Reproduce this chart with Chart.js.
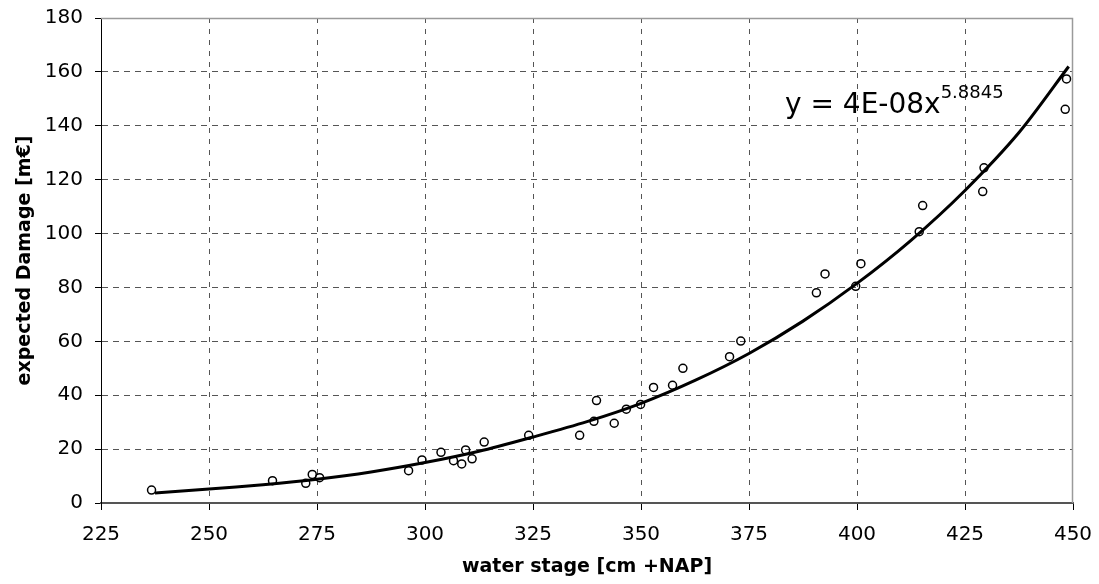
<!DOCTYPE html>
<html>
<head>
<meta charset="utf-8">
<script src="https://cdn.jsdelivr.net/npm/chart.js@4.4.1/dist/chart.umd.min.js"></script>
<style>
  html, body { margin: 0; padding: 0; background: #ffffff; }
  #wrap { width: 1099px; height: 584px; }
</style>
</head>
<body>
<div id="wrap"><canvas id="c" width="1099" height="584"></canvas></div>
<script>
// Observed points: water stage [cm +NAP] and expected damage [m€]
const stageObs  = [236.7, 264.7, 272.4, 273.9, 275.6, 296.2, 299.3, 303.7, 306.6, 308.5, 309.4, 310.9, 313.7, 324.0, 335.8, 339.1, 339.7, 343.8, 346.6, 349.9, 352.9, 357.3, 359.7, 370.5, 373.1, 390.6, 392.6, 399.7, 400.9, 414.4, 415.2, 429.4, 429.1, 448.5, 448.2];
const damageObs = [4.8, 8.3, 7.3, 10.6, 9.4, 12.0, 16.0, 18.8, 15.7, 14.5, 19.7, 16.4, 22.6, 25.1, 25.1, 30.3, 38.0, 29.6, 34.8, 36.6, 42.9, 43.7, 50.0, 54.3, 60.1, 78.0, 85.0, 80.4, 88.8, 100.7, 110.4, 124.4, 115.6, 157.4, 146.1];

// Trend line
const trendStage  = [237.5, 250, 262.5, 275, 287.5, 300, 312.5, 325, 337.5, 350, 362.5, 375, 387.5, 400, 412.5, 425, 437.5, 449];
const trendDamage = [3.7, 5.2, 6.8, 8.8, 11.5, 15.0, 19.2, 24.5, 30.2, 37.0, 45.5, 55.5, 67.5, 81.5, 97.5, 116, 137.5, 162];

const equationMain = 'y = 4E-08x';
const equationExp  = '5.8845';
const xTitle = 'water stage [cm +NAP]';
const yTitle = 'expected Damage [m€]';

const obsPoints = stageObs.map((x, i) => ({ x: x, y: damageObs[i] }));
const trendPoints = trendStage.map((x, i) => ({ x: x, y: trendDamage[i] }));

const FONT = 'DejaVu Sans';

const framePlugin = {
  id: 'frame',
  beforeDatasetsDraw(chart) {
    const { ctx, chartArea: a } = chart;
    ctx.save();
    ctx.strokeStyle = '#9a9a9a';
    ctx.lineWidth = 1.5;
    ctx.beginPath();
    ctx.moveTo(a.left, a.top + 0.5);
    ctx.lineTo(a.right - 0.5, a.top + 0.5);
    ctx.lineTo(a.right - 0.5, a.bottom);
    ctx.stroke();
    ctx.restore();
  },
  afterDraw(chart) {
    const { ctx } = chart;
    ctx.save();
    ctx.fillStyle = '#000';
    ctx.textBaseline = 'alphabetic';
    ctx.textAlign = 'left';
    ctx.font = '28px "' + FONT + '"';
    const x0 = 785, base = 113;
    ctx.fillText(equationMain, x0, base);
    const w = ctx.measureText(equationMain).width;
    ctx.font = '18px "' + FONT + '"';
    ctx.fillText(equationExp, x0 + w, base - 15);
    ctx.restore();
  }
};

new Chart(document.getElementById('c'), {
  type: 'scatter',
  data: {
    datasets: [
      {
        label: 'trend',
        data: trendPoints,
        showLine: true,
        borderColor: '#000',
        borderWidth: 3,
        pointRadius: 0,
        tension: 0.3,
        fill: false,
        order: 2
      },
      {
        label: 'observed',
        data: obsPoints,
        showLine: false,
        pointStyle: 'circle',
        pointRadius: 4,
        pointBorderWidth: 1.5,
        pointBorderColor: '#000',
        pointBackgroundColor: 'rgba(255,255,255,0)',
        order: 1
      }
    ]
  },
  options: {
    responsive: false,
    animation: false,
    devicePixelRatio: 1,
    layout: { padding: { top: 18, right: 26, left: 0, bottom: 0 } },
    plugins: { legend: { display: false }, tooltip: { enabled: false } },
    scales: {
      x: {
        type: 'linear',
        min: 225, max: 450,
        afterFit(scale) { scale.height = 81; scale.paddingLeft = 0; scale.paddingRight = 0; },
        ticks: { stepSize: 25, color: '#000', padding: 13, font: { family: FONT, size: 20 } },
        grid: {
          color: (c) => (c.tick && (c.tick.value === 450 || c.tick.value === 225)) ? 'rgba(0,0,0,0)' : '#555',
          tickColor: '#000',
          tickLength: 7,
          lineWidth: 1
        },
        border: { display: true, color: '#555', width: 2, dash: [5, 6] },
        title: { display: true, text: xTitle, color: '#000', padding: { top: 0, bottom: 6 }, font: { family: FONT, size: 19, weight: 'bold' } }
      },
      y: {
        type: 'linear',
        min: 0, max: 180,
        afterFit(scale) { scale.width = 101; scale.paddingTop = 0; scale.paddingBottom = 0; },
        ticks: { stepSize: 20, color: '#000', padding: 12, font: { family: FONT, size: 20 } },
        grid: {
          color: (c) => (c.tick && (c.tick.value === 180 || c.tick.value === 0)) ? 'rgba(0,0,0,0)' : '#555',
          tickColor: '#000',
          tickLength: 6,
          lineWidth: 1
        },
        border: { display: true, color: '#000', width: 1, dash: [6, 5] },
        title: { display: true, text: yTitle, color: '#000', padding: { top: 14, bottom: 0 }, font: { family: FONT, size: 19, weight: 'bold' } }
      }
    }
  },
  plugins: [framePlugin]
});
</script>
</body>
</html>
